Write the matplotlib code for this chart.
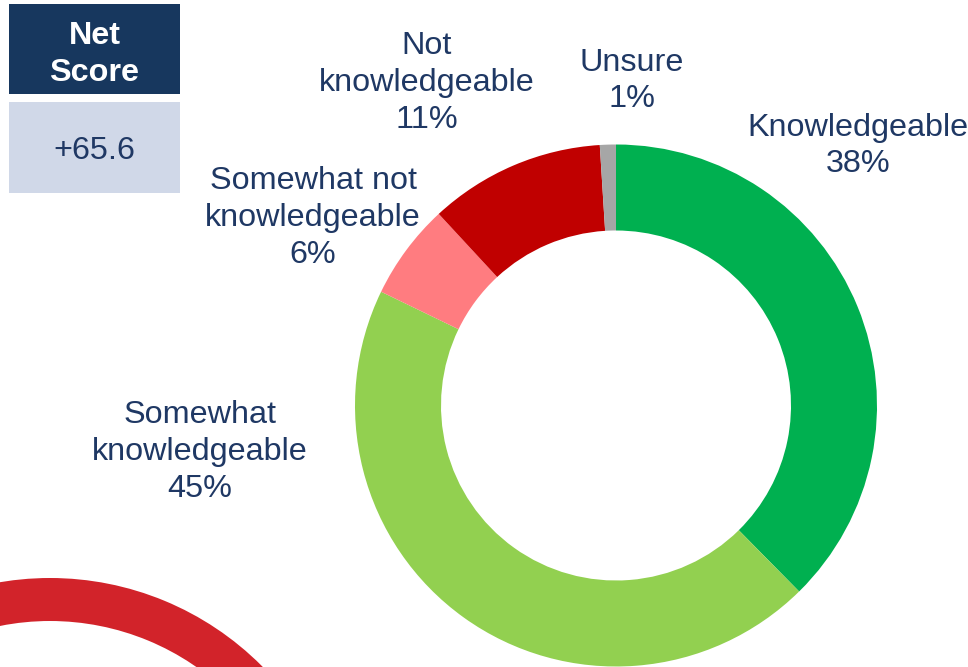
import matplotlib
matplotlib.use("Agg")
import matplotlib.pyplot as plt
from matplotlib.patches import Wedge, Rectangle

categories = ["Knowledgeable", "Somewhat\nknowledgeable", "Somewhat not\nknowledgeable",
              "Not\nknowledgeable", "Unsure"]
values = [38, 45, 6, 11, 1]
colors = ["#00B050", "#92D050", "#FF7C80", "#C00000", "#A6A6A6"]
net_score_label = "Net\nScore"
net_score_value = "+65.6"

navy = "#17375E"
text_col = "#1F3864"

plt.rcParams['font.family'] = ['Liberation Sans', 'DejaVu Sans']

fig = plt.figure(figsize=(9.68, 6.67), dpi=100)
ax = fig.add_axes([0, 0, 1, 1])

# decorative red arc, lower-left
ax.add_patch(Wedge((50, 877), 299, 0, 360, width=43, facecolor="#D2232A", edgecolor="none"))

# donut (y axis is inverted below, so angles are mirrored)
ax.pie(values, colors=colors, startangle=-90, counterclock=True,
       center=(616, 405.5), radius=261,
       wedgeprops=dict(width=86, edgecolor="none"), frame=True)
ax.set_xlim(0, 968)
ax.set_ylim(667, 0)
ax.set_aspect('auto')
ax.axis('off')

fs = 23.3
ls = 1.3
labels_pos = [(858, 146), (200, 452), (313, 218), (427, 83), (632, 81)]
for cat, v, (x, y) in zip(categories, values, labels_pos):
    ax.text(x, y, f"{cat}\n{v}%", ha='center', va='center', fontsize=fs,
            color=text_col, linespacing=ls)

# net score boxes
ax.add_patch(Rectangle((9, 4), 171, 90, facecolor=navy, edgecolor="none"))
ax.add_patch(Rectangle((9, 102), 171, 91, facecolor="#D0D8E8", edgecolor="none"))
ax.text(94.5, 54.5, net_score_label, ha='center', va='center', fontsize=fs,
        fontweight='bold', color='white', linespacing=ls)
ax.text(94.5, 151, net_score_value, ha='center', va='center', fontsize=fs, color=text_col)

fig.savefig("out.png", dpi=100)
